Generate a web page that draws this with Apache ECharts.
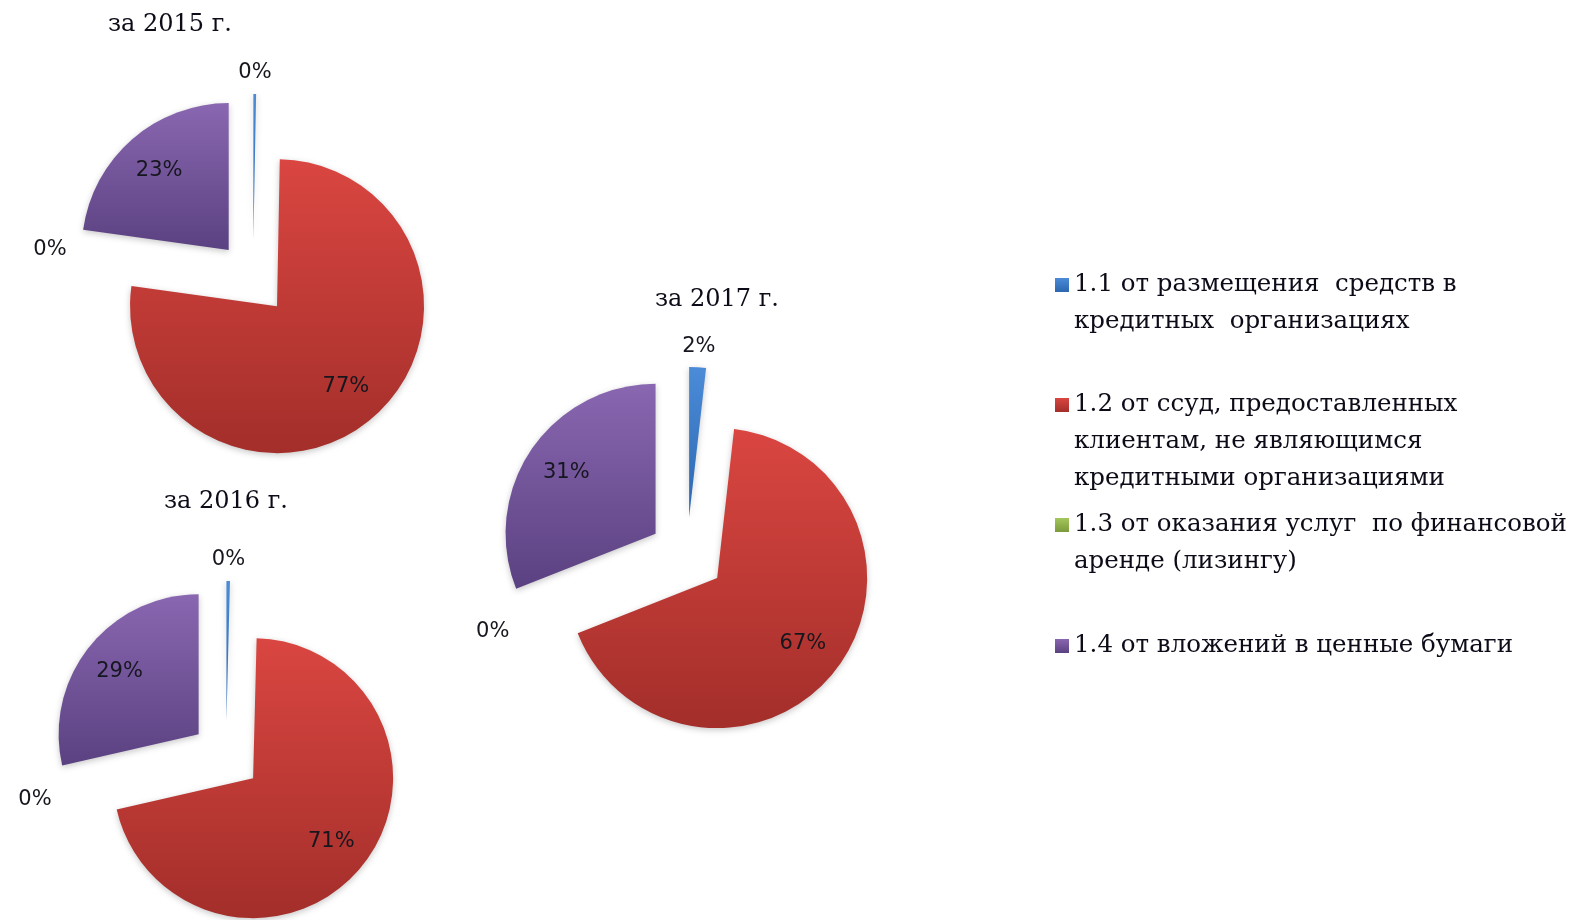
<!DOCTYPE html>
<html>
<head>
<meta charset="utf-8">
<script src="https://cdn.jsdelivr.net/npm/echarts@6/dist/echarts.min.js"></script>
<style>
  html, body { margin: 0; padding: 0; background: #ffffff; }
  #chart { width: 1589px; height: 920px; }
</style>
</head>
<body>
<div id="chart"></div>
<script>
// Income structure by source, shares in % of total, one pie per year
const years = ['за 2015 г.', 'за 2016 г.', 'за 2017 г.'];
const categories = [
  '1.1 от размещения средств в кредитных организациях',
  '1.2 от ссуд, предоставленных клиентам, не являющимся кредитными организациями',
  '1.3 от оказания услуг по финансовой аренде (лизингу)',
  '1.4 от вложений в ценные бумаги'
];
const legendLines = [
  ['1.1 от размещения  средств в', 'кредитных  организациях'],
  ['1.2 от ссуд, предоставленных', 'клиентам, не являющимся', 'кредитными организациями'],
  ['1.3 от оказания услуг  по финансовой', 'аренде (лизингу)'],
  ['1.4 от вложений в ценные бумаги']
];
const share11 = [0.3, 0.4, 1.8];
const share12 = [76.9, 71.0, 67.2];
const share13 = [0, 0, 0];
const share14 = [22.8, 28.6, 31.0];

// slice colours: top and bottom of the vertical shading
const sliceColors = [
  ['#4b8bd8', '#2c67b0'],
  ['#da4641', '#a32e2a'],
  ['#a5c65c', '#7c9a3b'],
  ['#8a67b1', '#5a4181']
];

// placement of each pie: centre and radius (px)
const pieLayout = [
  { center: [253, 278], r: 147 },
  { center: [226, 756], r: 140 },
  { center: [687, 555], r: 150 }
];
const EXPLODE = 0.25;

const titleLayout = [
  { x: 170, y: 13 },
  { x: 226, y: 490 },
  { x: 717, y: 288 }
];

const legendCenters = [285, 405, 525, 646];
const LEGEND_LH = 37;

const labelFont = 'DejaVu Sans';
const serifFont = 'DejaVu Serif';

function gradient(k) {
  return new echarts.graphic.LinearGradient(0, 0, 0, 1, [
    { offset: 0, color: sliceColors[k][0] },
    { offset: 1, color: sliceColors[k][1] }
  ]);
}

const valuesByYear = years.map((y, i) => [share11[i], share12[i], share13[i], share14[i]]);
const pctLabel = p => Math.round(p.percent) + '%';

const series = [];

// visible exploded pies
const sliceStyle = {
  borderWidth: 0,
  shadowBlur: 6,
  shadowColor: 'rgba(0,0,0,0.22)',
  shadowOffsetY: 2
};
pieLayout.forEach((p, i) => {
  series.push({
    type: 'pie',
    name: years[i],
    center: p.center,
    radius: p.r,
    startAngle: 90,
    clockwise: true,
    selectedMode: 'multiple',
    selectedOffset: Math.round(p.r * EXPLODE),
    avoidLabelOverlap: false,
    silent: true,
    label: { show: false },
    labelLine: { show: false },
    itemStyle: sliceStyle,
    select: { itemStyle: sliceStyle },
    emphasis: { disabled: true },
    data: categories.map((name, k) => ({
      name,
      value: valuesByYear[i][k],
      selected: true,
      itemStyle: { color: gradient(k) }
    }))
  });
});

// percentage labels: large slices inside, small ones just beyond the rim
pieLayout.forEach((p, i) => {
  const vals = valuesByYear[i];
  const total = vals.reduce((a, b) => a + b, 0);
  const rings = [
    { radius: [Math.round(p.r * 0.4), p.r], inner: true },
    { radius: [p.r + 6, p.r + 30], inner: false }
  ];
  rings.forEach(ring => {
    series.push({
      type: 'pie',
      name: years[i] + (ring.inner ? ' ' : '  '),
      center: p.center,
      radius: ring.radius,
      startAngle: 90,
      clockwise: true,
      selectedMode: 'multiple',
      selectedOffset: Math.round(p.r * EXPLODE),
      avoidLabelOverlap: false,
      silent: true,
      z: 5,
      itemStyle: { color: 'rgba(0,0,0,0)', borderWidth: 0 },
      select: { itemStyle: { color: 'rgba(0,0,0,0)', borderWidth: 0 } },
      emphasis: { disabled: true },
      labelLine: { show: false },
      label: {
        position: 'inside',
        formatter: pctLabel,
        fontFamily: labelFont,
        fontSize: 21,
        color: '#16161e'
      },
      data: categories.map((name, k) => {
        const big = vals[k] / total >= 0.1;
        return {
          name,
          value: vals[k],
          selected: true,
          label: { show: ring.inner ? big : !big }
        };
      })
    });
  });
});

const titles = years.map((t, i) => ({
  text: t,
  left: titleLayout[i].x,
  top: titleLayout[i].y,
  textAlign: 'center',
  padding: 0,
  textStyle: { fontFamily: serifFont, fontSize: 24, fontWeight: 'normal', color: '#0c0c18' }
}));

// one legend block per entry; blank lines before the text keep the
// marker level with the first line of a wrapped label
const legends = categories.map((name, i) => {
  const n = legendLines[i].length;
  return {
    data: [name],
    orient: 'vertical',
    left: 1055,
    top: legendCenters[i] - (2 * n - 1) * LEGEND_LH / 2,
    padding: 0,
    icon: 'rect',
    itemWidth: 14,
    itemHeight: 14,
    selectedMode: false,
    formatter: () => '\n'.repeat(n - 1) + legendLines[i].join('\n'),
    textStyle: {
      fontFamily: serifFont,
      fontSize: 24.5,
      color: '#0c0c18',
      lineHeight: LEGEND_LH
    }
  };
});

const chart = echarts.init(document.getElementById('chart'));
chart.setOption({
  animation: false,
  backgroundColor: '#ffffff',
  title: titles,
  legend: legends,
  series
});
</script>
</body>
</html>
